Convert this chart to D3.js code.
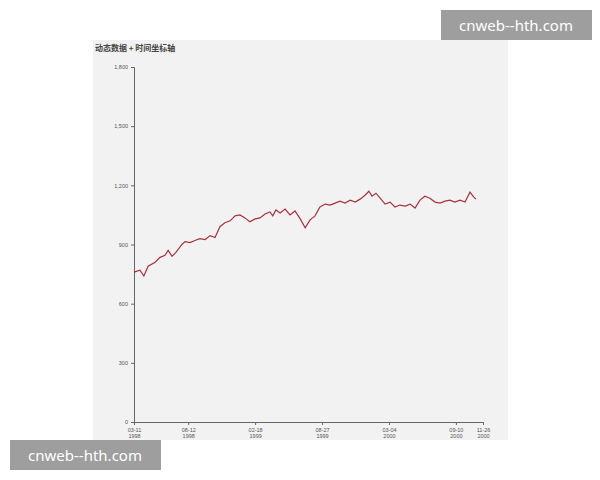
<!DOCTYPE html>
<html><head><meta charset="utf-8">
<script src="https://cdn.jsdelivr.net/npm/d3@7"></script>
<style>body{margin:0;background:#fff;font-family:"Noto Sans CJK SC","Noto Sans",sans-serif}</style>
</head><body><svg id="c" width="600" height="480"></svg>
<script>
// days since 1998-03-11 and values
const dayOffsets = [0,17,28,40,60,74,88,97,108,119,136,145,159,173,187,202,216,230,244,258,273,287,301,315,329,344,358,372,386,394,403,415,429,443,457,472,486,500,514,528,543,557,571,585,599,614,628,642,656,667,676,687,699,713,727,741,755,770,784,798,812,826,840,855,869,883,897,911,926,940,954,965,971];
const values = [760,770,740,790,810,835,845,870,840,860,900,915,910,920,930,925,945,935,990,1010,1020,1045,1050,1035,1015,1030,1035,1055,1065,1045,1075,1060,1080,1050,1070,1030,985,1025,1045,1090,1105,1100,1110,1120,1110,1125,1115,1130,1150,1170,1145,1160,1135,1105,1115,1090,1100,1095,1105,1085,1125,1145,1135,1115,1110,1120,1125,1115,1125,1115,1165,1140,1130];
const tickDates = ['1998-03-11','1998-08-12','1999-02-18','1999-08-27','2000-03-04','2000-09-10','2000-11-26'];
const yTicks = [0,300,600,900,1200,1500,1800];

const parse = d3.timeParse('%Y-%m-%d');
const start = parse('1998-03-11');
const data = dayOffsets.map((o, i) => ({ date: d3.timeDay.offset(start, o), value: values[i] }));

const svg = d3.select('#c');
svg.append('rect').attr('x', 93).attr('y', 40).attr('width', 415).attr('height', 400).attr('fill', '#f2f2f2');
svg.append('text').attr('x', 95).attr('y', 51).attr('font-size', 8).attr('font-weight', 'bold').attr('fill', '#444').text('动态数据 + 时间坐标轴');

const x = d3.scaleTime().domain([start, parse('2000-11-26')]).range([134, 483]);
const y = d3.scaleLinear().domain([0, 1800]).range([422, 67]);

const xa = svg.append('g').attr('transform', 'translate(0,422)')
    .call(d3.axisBottom(x).tickValues(tickDates.map(parse)).tickSize(3).tickFormat(d3.timeFormat('%m-%d')));
xa.selectAll('.tick text').attr('font-size', 5.5).attr('fill', '#555')
    .each(function (d) {
        d3.select(this).append('tspan').attr('x', 0).attr('dy', '1.1em').text(d3.timeFormat('%Y')(d));
    });
const ya = svg.append('g').attr('transform', 'translate(134,0)')
    .call(d3.axisLeft(y).tickValues(yTicks).tickSize(3).tickFormat(d3.format(',')));
ya.selectAll('.tick text').attr('font-size', 5.5).attr('fill', '#555');
svg.selectAll('.domain,.tick line').attr('stroke', '#666');

svg.append('path').datum(data).attr('fill', 'none').attr('stroke', '#a8323e').attr('stroke-width', 1.2)
    .attr('d', d3.line().x(d => x(d.date)).y(d => y(d.value)));

// watermark labels
[[441, 10], [10, 440]].forEach(([bx, by]) => {
    svg.append('rect').attr('x', bx).attr('y', by).attr('width', 151).attr('height', 30).attr('fill', '#9e9e9e');
    svg.append('text').attr('x', bx + 75).attr('y', by + 21).attr('text-anchor', 'middle')
        .attr('font-size', 15).attr('fill', '#fff').attr('font-family', 'Noto Sans').text('cnweb--hth.com');
});
</script></body></html>
